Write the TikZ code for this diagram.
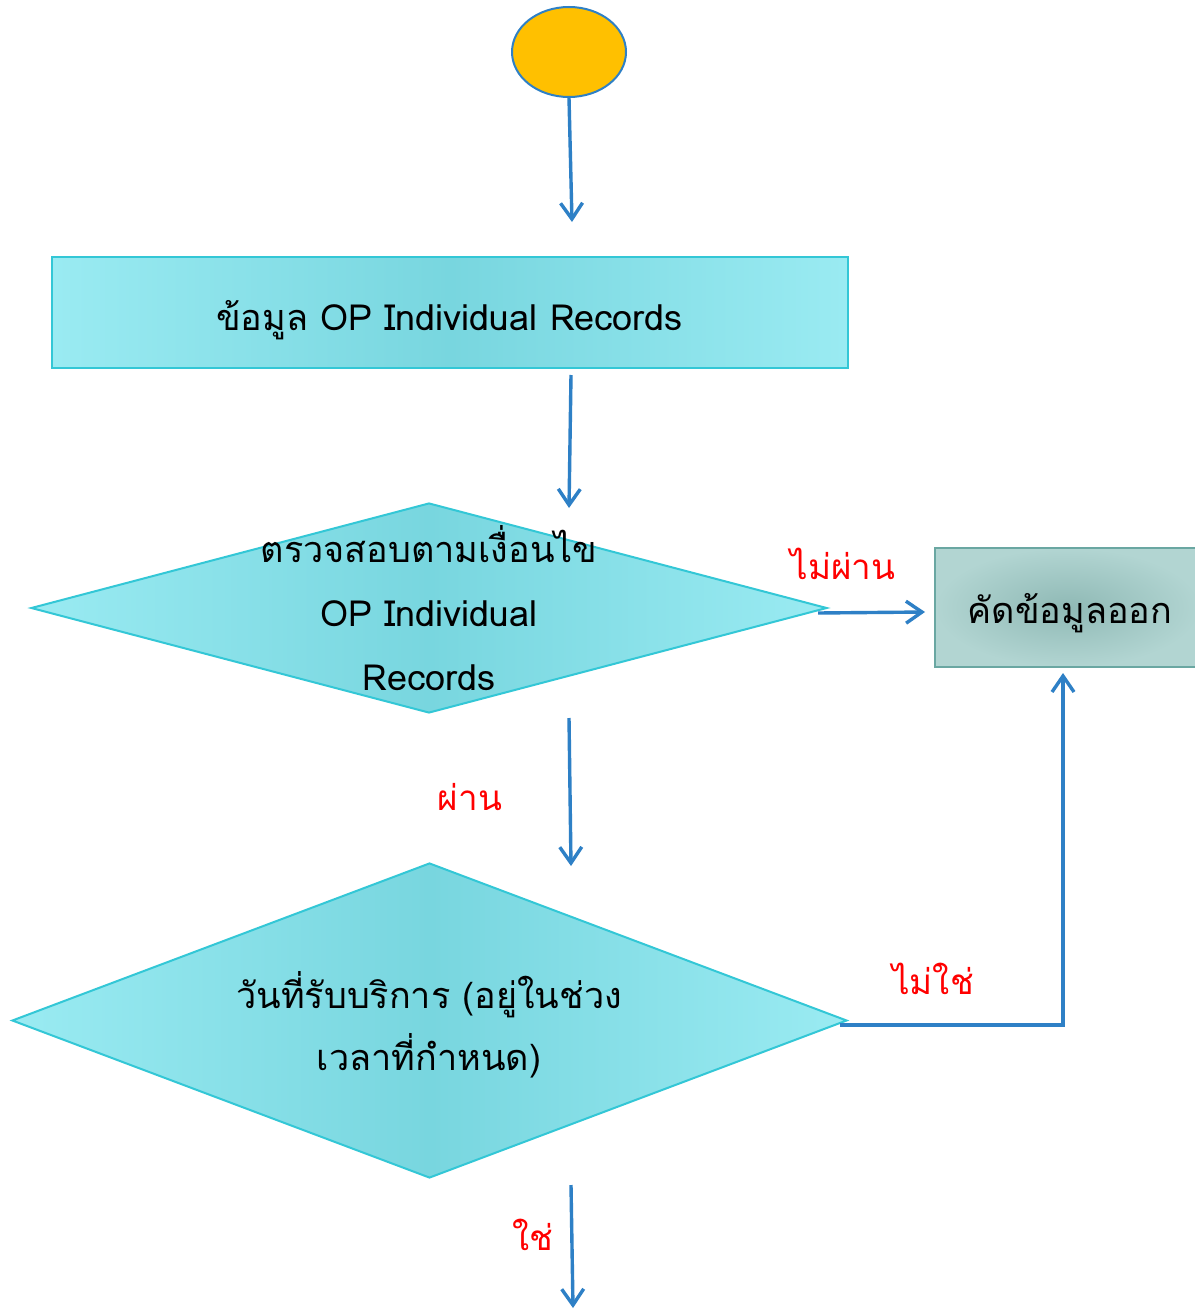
\documentclass[tikz,border=0pt]{standalone}
\usepackage{fontspec}
\setmainfont[Script=Thai]{Loma}
\usetikzlibrary{shapes.geometric,arrows.meta}
\definecolor{arrblue}{HTML}{2E80C6}
\definecolor{cyanedge}{HTML}{9AEBF2}
\definecolor{cyanmid}{HTML}{78D6DF}
\definecolor{cyanborder}{HTML}{33C7D6}
\definecolor{grayin}{HTML}{8FB9B5}
\definecolor{grayout}{HTML}{B2D5D2}
\definecolor{grayborder}{HTML}{6AA7A2}
\definecolor{startfill}{HTML}{FFC000}
\begin{document}
\begin{tikzpicture}[x=0.5pt,y=-0.5pt,
  arr/.style={draw=arrblue, line width=1.7pt, -{Straight Barb[length=8pt,width=11pt,line width=1.7pt]}},
  cyanbox/.style={draw=cyanborder, line width=1pt, left color=cyanedge, right color=cyanedge, middle color=cyanmid, inner sep=0pt},
  graybox/.style={draw=grayborder, line width=1pt, inner color=grayin, outer color=grayout, inner sep=0pt},
  txt/.style={font=\fontsize{18}{32}\selectfont, text=black, align=center},
  lbl/.style={font=\fontsize{17.5}{20}\selectfont, text=red}]
\useasboundingbox (0,0) rectangle (1194,1311);
\fill[white] (0,0) rectangle (1194,1311);

% shapes
\node[ellipse, draw=arrblue, line width=1pt, fill=startfill, minimum width=57pt, minimum height=45pt, inner sep=0pt] (start) at (569,52) {};
\node[cyanbox, rectangle, minimum width=398pt, minimum height=55.5pt] (rec) at (450,312.5) {};
\node[txt] (rect) at (449.5,320) {ข้อมูล OP Individual Records};
\node[cyanbox, diamond, minimum width=398pt, minimum height=105pt] (chk) at (429,608) {};
\node[txt] (chkt) at (429,608) {ตรวจสอบตามเงื่อนไข\\OP Individual\\Records};
\node[graybox, rectangle, minimum width=132.5pt, minimum height=59.5pt] (cut) at (1067.5,607.5) {};
\node[txt] (cutt) at (1070,613) {คัดข้อมูลออก};
\node[cyanbox, diamond, minimum width=417.5pt, minimum height=157.5pt] (date) at (429.5,1020.5) {};
\node[txt, font=\fontsize{18}{31}\selectfont] (datet) at (429,1025) {วันที่รับบริการ (อยู่ในช่วง\\เวลาที่กำหนด)};

% labels
\node[lbl] (l1) at (843,564) {ไม่ผ่าน};
\node[lbl] (l2) at (470,797) {ผ่าน};
\node[lbl] (l3) at (933,979) {ไม่ใช่};
\node[lbl] (l4) at (533,1235) {ใช่};

% connector ends
\coordinate (a1e) at (572,222);
\coordinate (a2s) at (571,375);
\coordinate (a2e) at (569,508);
\coordinate (a3s) at (818,613);
\coordinate (a3e) at (925,612);
\coordinate (a4s) at (569,718);
\coordinate (a4e) at (571,866);
\coordinate (a5s) at (840,1025);
\coordinate (a5c) at (1063,1025);
\coordinate (a5e) at (1063,673);
\coordinate (a6s) at (571,1185);
\coordinate (a6e) at (573,1308);

\draw[arr] (start.south) -- (a1e);
\draw[arr] (a2s) -- (a2e);
\draw[arr] (a3s) -- (a3e);
\draw[arr] (a4s) -- (a4e);
\draw[arr] (a5s) -- (a5c) -- (a5e);
\draw[arr] (a6s) -- (a6e);
\end{tikzpicture}
\end{document}
